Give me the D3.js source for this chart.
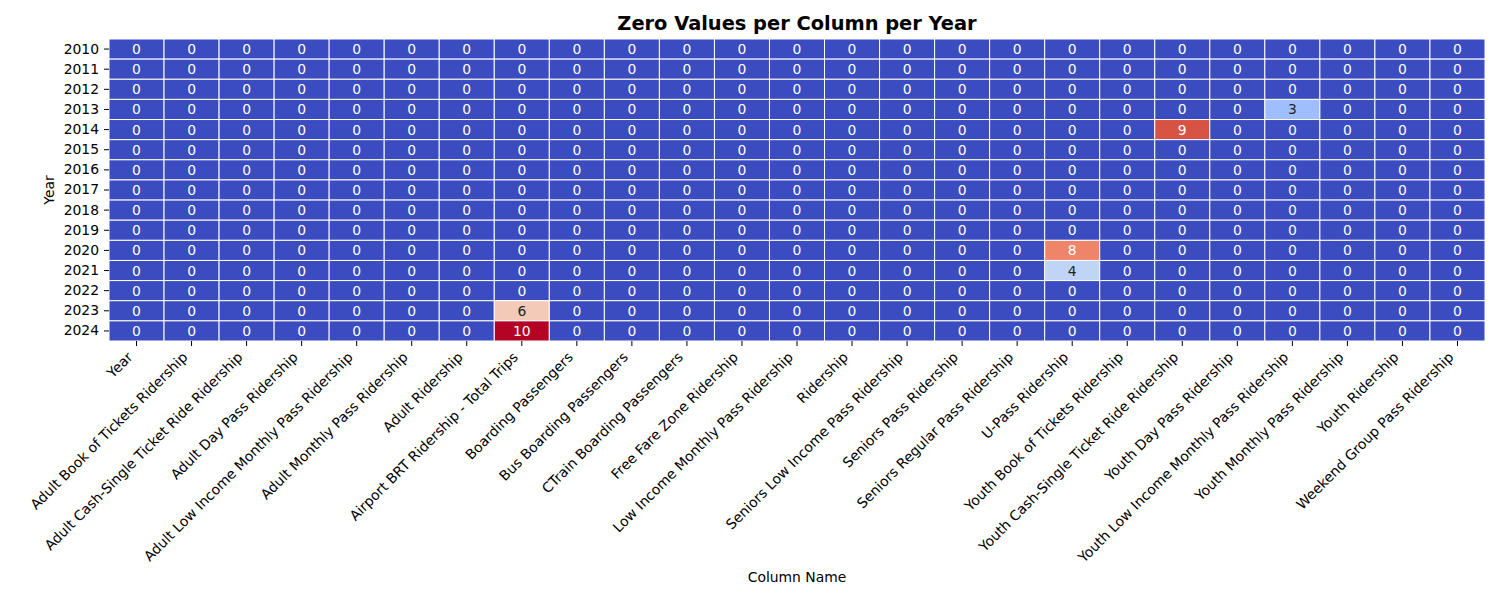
<!DOCTYPE html>
<html>
<head>
<meta charset="utf-8">
<script src="https://cdn.jsdelivr.net/npm/d3@7"></script>
<style>
  body { margin: 0; background: #fff; }
  text { font-family: "DejaVu Sans", sans-serif; }
</style>
</head>
<body>
<div id="chart"></div>
<script>
// years on the rows
var years = ["2010","2011","2012","2013","2014","2015","2016","2017","2018","2019","2020","2021","2022","2023","2024"];

// column names on the x axis
var columns = [
  "Year", "Adult Book of Tickets Ridership", "Adult Cash-Single Ticket Ride Ridership",
  "Adult Day Pass Ridership", "Adult Low Income Monthly Pass Ridership", "Adult Monthly Pass Ridership",
  "Adult Ridership", "Airport BRT Ridership - Total Trips", "Boarding Passengers",
  "Bus Boarding Passengers", "CTrain Boarding Passengers", "Free Fare Zone Ridership",
  "Low Income Monthly Pass Ridership", "Ridership", "Seniors Low Income Pass Ridership",
  "Seniors Pass Ridership", "Seniors Regular Pass Ridership", "U-Pass Ridership",
  "Youth Book of Tickets Ridership", "Youth Cash-Single Ticket Ride Ridership", "Youth Day Pass Ridership",
  "Youth Low Income Monthly Pass Ridership", "Youth Monthly Pass Ridership", "Youth Ridership",
  "Weekend Group Pass Ridership"
];

// zero counts, one row per year, one entry per column
var zeroCounts = [
  [0,0,0,0,0,0,0,0,0,0,0,0,0,0,0,0,0,0,0,0,0,0,0,0,0], // 2010
  [0,0,0,0,0,0,0,0,0,0,0,0,0,0,0,0,0,0,0,0,0,0,0,0,0], // 2011
  [0,0,0,0,0,0,0,0,0,0,0,0,0,0,0,0,0,0,0,0,0,0,0,0,0], // 2012
  [0,0,0,0,0,0,0,0,0,0,0,0,0,0,0,0,0,0,0,0,0,3,0,0,0], // 2013
  [0,0,0,0,0,0,0,0,0,0,0,0,0,0,0,0,0,0,0,9,0,0,0,0,0], // 2014
  [0,0,0,0,0,0,0,0,0,0,0,0,0,0,0,0,0,0,0,0,0,0,0,0,0], // 2015
  [0,0,0,0,0,0,0,0,0,0,0,0,0,0,0,0,0,0,0,0,0,0,0,0,0], // 2016
  [0,0,0,0,0,0,0,0,0,0,0,0,0,0,0,0,0,0,0,0,0,0,0,0,0], // 2017
  [0,0,0,0,0,0,0,0,0,0,0,0,0,0,0,0,0,0,0,0,0,0,0,0,0], // 2018
  [0,0,0,0,0,0,0,0,0,0,0,0,0,0,0,0,0,0,0,0,0,0,0,0,0], // 2019
  [0,0,0,0,0,0,0,0,0,0,0,0,0,0,0,0,0,8,0,0,0,0,0,0,0], // 2020
  [0,0,0,0,0,0,0,0,0,0,0,0,0,0,0,0,0,4,0,0,0,0,0,0,0], // 2021
  [0,0,0,0,0,0,0,0,0,0,0,0,0,0,0,0,0,0,0,0,0,0,0,0,0], // 2022
  [0,0,0,0,0,0,0,6,0,0,0,0,0,0,0,0,0,0,0,0,0,0,0,0,0], // 2023
  [0,0,0,0,0,0,0,10,0,0,0,0,0,0,0,0,0,0,0,0,0,0,0,0,0] // 2024
];

// coolwarm colour stops (matplotlib)
var coolwarm = [
  "#3b4cc0","#445acc","#4d68d7","#5775e1","#6282ea","#6c8ef1","#779af7","#82a5fb",
  "#8db0fe","#98b9ff","#a3c2ff","#aec9fd","#b8d0f9","#c2d5f4","#ccd9ee","#d5dbe6",
  "#dddddd","#e5d8d1","#ecd3c5","#f1ccb9","#f5c4ad","#f7bba0","#f7b194","#f7a687",
  "#f49a7b","#f18d6f","#ec7f63","#e57058","#de604d","#d55042","#cb3e38","#c0282f","#b40426"
];

var margin = {top: 39, right: 15, bottom: 259, left: 109},
    width = 1500 - margin.left - margin.right,
    height = 600 - margin.top - margin.bottom;

var svg = d3.select("#chart")
  .append("svg")
    .attr("width", 1500)
    .attr("height", 600);

var g = svg.append("g")
    .attr("transform", "translate(" + margin.left + "," + margin.top + ")");

var x = d3.scaleBand().domain(columns).range([0, width]);
var y = d3.scaleBand().domain(years).range([0, height]);

// linear between the coolwarm stops, vmin 0 .. vmax 10
var color = d3.scaleLinear()
  .domain(coolwarm.map(function(c, i) { return i * 10 / (coolwarm.length - 1); }))
  .range(coolwarm);

// seaborn picks the annotation colour from relative luminance
function luminance(c) {
  c = d3.rgb(c);
  var ch = [c.r, c.g, c.b].map(function(v) {
    v = v / 255;
    return v <= 0.03928 ? v / 12.92 : Math.pow((v + 0.055) / 1.055, 2.4);
  });
  return 0.2126 * ch[0] + 0.7152 * ch[1] + 0.0722 * ch[2];
}

var cells = [];
years.forEach(function(yr, i) {
  columns.forEach(function(col, j) {
    cells.push({year: yr, col: col, value: zeroCounts[i][j]});
  });
});

g.selectAll("rect.cell")
  .data(cells)
  .enter().append("rect")
    .attr("class", "cell")
    .attr("x", function(d) { return x(d.col); })
    .attr("y", function(d) { return y(d.year); })
    .attr("width", x.bandwidth())
    .attr("height", y.bandwidth())
    .attr("fill", function(d) { return color(d.value); })
    .attr("stroke", "white")
    .attr("stroke-width", 1);

g.selectAll("text.val")
  .data(cells)
  .enter().append("text")
    .attr("class", "val")
    .attr("x", function(d) { return x(d.col) + x.bandwidth() / 2; })
    .attr("y", function(d) { return y(d.year) + y.bandwidth() / 2; })
    .attr("dy", "0.36em")
    .attr("text-anchor", "middle")
    .style("font-size", "13.9px")
    .attr("fill", function(d) {
      return luminance(color(d.value)) > 0.408 ? "#262626" : "white";
    })
    .text(function(d) { return d.value; });

// X axis
var xAxis = g.append("g")
    .attr("transform", "translate(0," + height + ")")
    .call(d3.axisBottom(x).tickSize(5).tickPadding(0));
xAxis.select(".domain").remove();
xAxis.selectAll(".tick line").attr("stroke", "#000").attr("stroke-width", 1);
xAxis.selectAll(".tick text")
    .style("font-size", "13.9px")
    .style("font-family", "DejaVu Sans, sans-serif")
    .attr("fill", "#000")
    .attr("text-anchor", "end")
    .attr("dy", 0)
    .attr("y", 0)
    .attr("transform", "translate(-3,17) rotate(-45)");

// Y axis
var yAxis = g.append("g")
    .call(d3.axisLeft(y).tickSize(5).tickPadding(5));
yAxis.select(".domain").remove();
yAxis.selectAll(".tick line").attr("stroke", "#000").attr("stroke-width", 1);
yAxis.selectAll(".tick text")
    .style("font-size", "13.9px")
    .style("font-family", "DejaVu Sans, sans-serif")
    .attr("fill", "#000");

// Y-axis label
svg.append("text")
    .attr("transform", "rotate(-90)")
    .attr("x", -(margin.top + height / 2))
    .attr("y", 54)
    .style("text-anchor", "middle")
    .style("font-size", "13.9px")
    .text("Year");

// X-axis label
svg.append("text")
    .attr("x", margin.left + width / 2)
    .attr("y", 582)
    .style("text-anchor", "middle")
    .style("font-size", "13.9px")
    .text("Column Name");

// title
svg.append("text")
    .attr("x", margin.left + width / 2)
    .attr("y", 30)
    .style("text-anchor", "middle")
    .style("font-size", "19.4px")
    .style("font-weight", "bold")
    .text("Zero Values per Column per Year");
</script>
</body>
</html>
